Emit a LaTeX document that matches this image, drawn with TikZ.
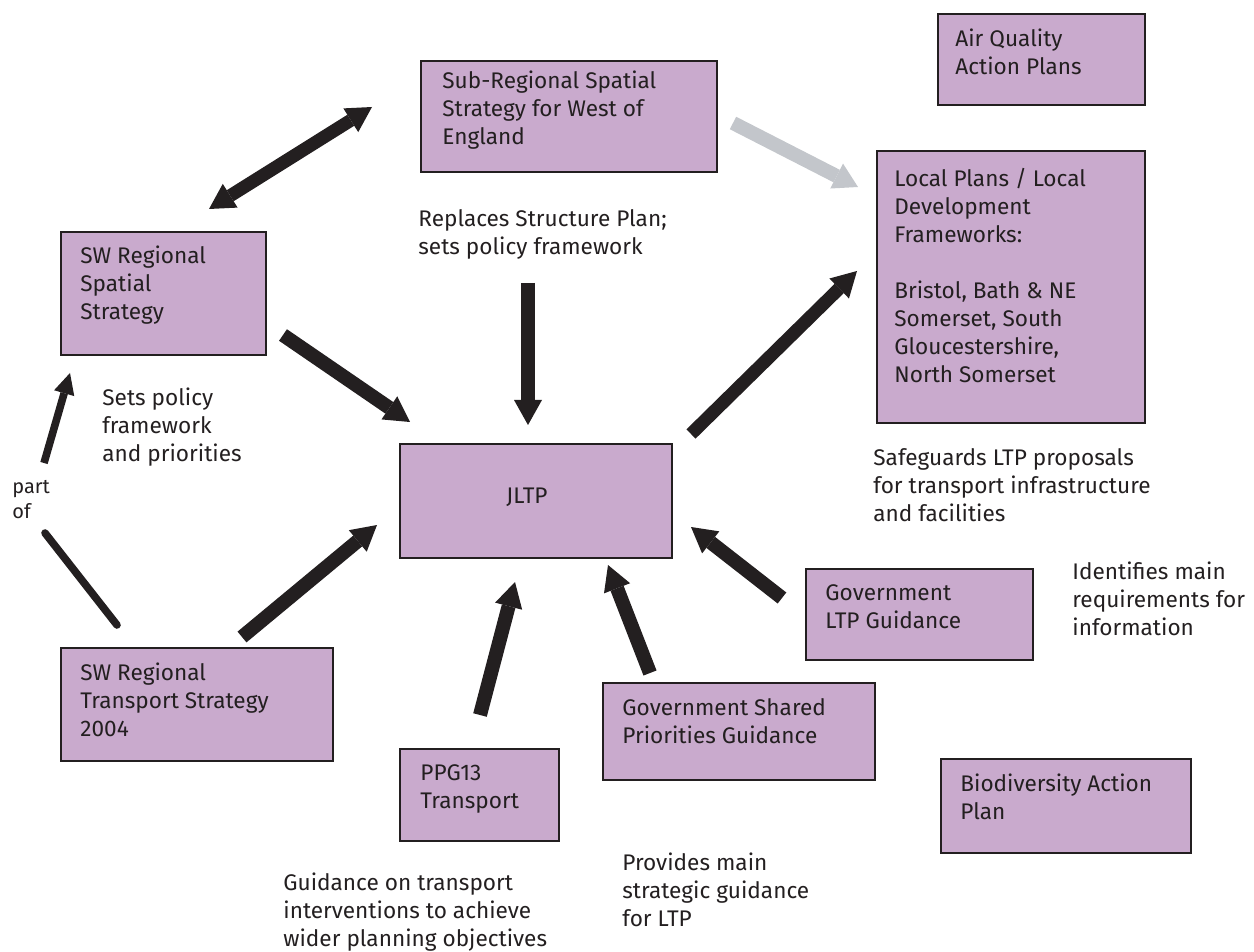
\documentclass[tikz,border=0pt]{standalone}
\usepackage{fontspec}
\setmainfont{Fira Sans}
\usetikzlibrary{arrows.meta}
\definecolor{boxfill}{HTML}{C9AACD}
\definecolor{ink}{HTML}{231F20}
\definecolor{greyarrow}{HTML}{C3C6CB}
\begin{document}
\begin{tikzpicture}[x=0.5pt,y=-0.5pt,
  box/.style={draw=ink,line width=1pt,fill=boxfill,anchor=north west,inner sep=0pt},
  txt/.style={anchor=west,inner sep=0pt,align=left,text=ink,font=\fontsize{11.3}{14}\selectfont},
  smalltxt/.style={anchor=west,inner sep=0pt,align=left,text=ink,font=\fontsize{10}{12.5}\selectfont},
  bigarrow/.style={draw=ink,line width=7pt,-{Triangle[width=14pt,length=12.5pt,line width=0pt]}},
  dblarrow/.style={draw=ink,line width=6.5pt,{Triangle[width=14pt,length=12.5pt,line width=0pt]}-{Triangle[width=14pt,length=12.5pt,line width=0pt]}},
  greyarr/.style={draw=greyarrow,line width=7pt,-{Triangle[width=14pt,length=12pt,line width=0pt]}},
  thinarrow/.style={draw=ink,line width=3.8pt,-{Triangle[width=10.5pt,length=10.5pt,line width=0pt]}},
  thinline/.style={draw=ink,line width=3.8pt,line cap=round}
]
\useasboundingbox (0,0) rectangle (1254,952);

% boxes
\node[box,minimum width=148pt,minimum height=55.5pt] (sub) at (420,60) {};
\node[box,minimum width=103.5pt,minimum height=45.5pt] (air) at (937,13) {};
\node[box,minimum width=134pt,minimum height=136pt] (local) at (876,150) {};
\node[box,minimum width=102.5pt,minimum height=61.5pt] (sws) at (60,231) {};
\node[box,minimum width=136pt,minimum height=57pt] (jltp) at (399,443) {};
\node[box,minimum width=136pt,minimum height=56.5pt] (swt) at (60,647) {};
\node[box,minimum width=79.5pt,minimum height=46pt] (ppg) at (399,748) {};
\node[box,minimum width=136pt,minimum height=48.5pt] (gsh) at (602,682) {};
\node[box,minimum width=113.5pt,minimum height=45.5pt] (gltp) at (805,568) {};
\node[box,minimum width=125pt,minimum height=47pt] (bio) at (940,758) {};

% box texts
\node[txt] (subT) at (442,110) {Sub-Regional Spatial\\Strategy for West of\\England};
\node[txt] (airT) at (955,52) {Air Quality\\Action Plans};
\node[txt] (localT) at (894,275.5) {Local Plans / Local\\Development\\Frameworks:\\[14pt]Bristol, Bath \& NE\\Somerset, South\\Gloucestershire,\\North Somerset};
\node[txt] (swsT) at (80,285) {SW Regional\\Spatial\\Strategy};
\node[txt,anchor=center] (jltpT) at (527,497) {JLTP};
\node[txt] (swtT) at (80,700) {SW Regional\\Transport Strategy\\2004};
\node[txt] (ppgT) at (420,788.5) {PPG13\\Transport};
\node[txt] (gshT) at (622,721) {Government Shared\\Priorities Guidance};
\node[txt] (gltpT) at (825,607) {Government\\LTP Guidance};
\node[txt] (bioT) at (960,797) {Biodiversity Action\\Plan};

% free labels
\node[txt] (replaces) at (418,234) {Replaces Structure Plan;\\sets policy framework};
\node[txt] (sets) at (102,427) {Sets policy\\framework\\and priorities};
\node[smalltxt] (partof) at (12,500) {part\\of};
\node[txt] (safe) at (873,485) {Safeguards LTP proposals\\for transport infrastructure\\and facilities};
\node[txt] (ident) at (1072,598.5) {Identifies main\\requirements for\\information};
\node[txt] (guid) at (283,912.5) {Guidance on transport\\interventions to achieve\\wider planning objectives};
\node[txt] (prov) at (622,890) {Provides main\\strategic guidance\\for LTP};

% connector end points
\coordinate (d1) at (209,209);
\coordinate (d2) at (372,107);
\coordinate (g1) at (733,123);
\coordinate (g2) at (858,187);
\coordinate (v1) at (528,283);
\coordinate (v2) at (528,425);
\coordinate (s1) at (283,335);
\coordinate (s2) at (410,422);
\coordinate (l1) at (691,434);
\coordinate (l2) at (857,271);
\coordinate (p1) at (44,463);
\coordinate (p2) at (70,373);
\coordinate (q1) at (45,533);
\coordinate (q2) at (117,625);
\coordinate (t1) at (242,637);
\coordinate (t2) at (377,525);
\coordinate (k1) at (480,715);
\coordinate (k2) at (515,582);
\coordinate (h1) at (650,673);
\coordinate (h2) at (608,565);
\coordinate (m1) at (782,598);
\coordinate (m2) at (691,527);

% connectors
\draw[dblarrow] (d1) -- (d2);
\draw[greyarr] (g1) -- (g2);
\draw[bigarrow] (v1) -- (v2);
\draw[bigarrow] (s1) -- (s2);
\draw[bigarrow,line width=6.5pt] (l1) -- (l2);
\draw[thinarrow] (p1) -- (p2);
\draw[thinline] (q1) -- (q2);
\draw[bigarrow] (t1) -- (t2);
\draw[bigarrow] (k1) -- (k2);
\draw[bigarrow] (h1) -- (h2);
\draw[bigarrow] (m1) -- (m2);
\end{tikzpicture}
\end{document}
